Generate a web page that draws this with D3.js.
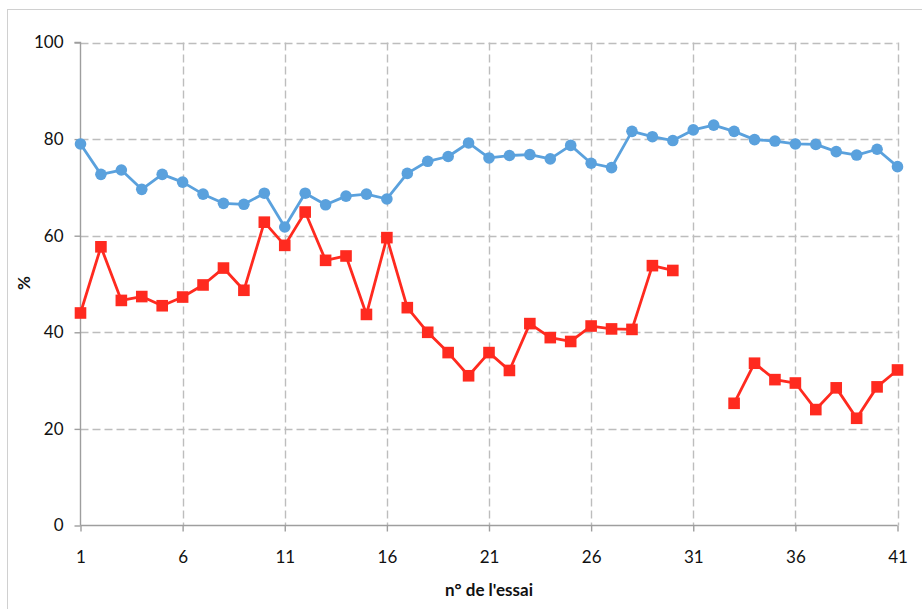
<!DOCTYPE html>
<html>
<head>
<meta charset="utf-8">
<script src="https://cdn.jsdelivr.net/npm/d3@7"></script>
<style>
  html, body { margin: 0; padding: 0; background: #fff; }
  svg { display: block; font-family: Lato, "Open Sans", sans-serif; }
</style>
</head>
<body>
<svg id="chart" width="922" height="609"></svg>
<script>
const trials = d3.range(1, 42);
const blueValues = [79.0, 72.7, 73.6, 69.6, 72.7, 71.1, 68.6, 66.7, 66.5, 68.8,
  61.8, 68.8, 66.4, 68.2, 68.6, 67.6, 72.9, 75.4, 76.4, 79.2,
  76.1, 76.6, 76.8, 75.9, 78.7, 75.0, 74.1, 81.6, 80.5, 79.7,
  81.9, 82.9, 81.6, 79.9, 79.6, 79.0, 78.9, 77.4, 76.7, 77.9, 74.3];
const redValues = [44.0, 57.7, 46.6, 47.4, 45.5, 47.3, 49.8, 53.3, 48.7, 62.8,
  58.0, 64.9, 54.9, 55.8, 43.7, 59.6, 45.1, 40.0, 35.8, 31.0,
  35.8, 32.1, 41.8, 38.9, 38.1, 41.3, 40.7, 40.6, 53.8, 52.8,
  null, null, 25.3, 33.6, 30.2, 29.5, 24.0, 28.5, 22.2, 28.7, 32.2];
const xTicks = [1, 6, 11, 16, 21, 26, 31, 36, 41];
const yTicks = [0, 20, 40, 60, 80, 100];
const xTitle = "n° de l'essai";
const yTitle = "%";

const svg = d3.select("#chart");
const x = d3.scaleLinear().domain([1, 41]).range([80.5, 897.5]);
const y = d3.scaleLinear().domain([0, 100]).range([525.5, 42.5]);

// outer border
svg.append("rect").attr("x", 7.5).attr("y", 9.5).attr("width", 930).attr("height", 620)
  .attr("fill", "none").attr("stroke", "#d0d0d0").attr("stroke-width", 1);

// grid
const grid = svg.append("g");
grid.selectAll("line.h").data(yTicks.filter(d => d > 0)).join("line")
  .attr("x1", x(1)).attr("x2", x(41))
  .attr("y1", d => Math.round(y(d)) + 0.5).attr("y2", d => Math.round(y(d)) + 0.5)
  .attr("stroke", "#bdbdbd").attr("stroke-width", 1.4).attr("stroke-dasharray", "8,4");
grid.selectAll("line.v").data(xTicks.filter(d => d > 1)).join("line")
  .attr("x1", d => Math.round(x(d)) + 0.5).attr("x2", d => Math.round(x(d)) + 0.5)
  .attr("y1", y(100)).attr("y2", y(0))
  .attr("stroke", "#bdbdbd").attr("stroke-width", 1.4).attr("stroke-dasharray", "8,4");

// axes
const xAxis = d3.axisBottom(x).tickValues(xTicks).tickSize(6).tickPadding(19).tickFormat(d3.format("d"));
const yAxis = d3.axisLeft(y).tickValues(yTicks).tickSize(6).tickPadding(11).tickFormat(d3.format("d"));
const gx = svg.append("g").attr("transform", `translate(0,${y(0)})`).call(xAxis);
const gy = svg.append("g").attr("transform", `translate(${x(1)},0)`).call(yAxis);
[gx, gy].forEach(g => {
  g.select(".domain").attr("stroke", "#9e9e9e").attr("stroke-width", 1.4);
  g.selectAll(".tick line").attr("stroke", "#9e9e9e").attr("stroke-width", 1.4);
  g.selectAll(".tick text").attr("fill", "#111").attr("font-size", 17)
    .attr("font-family", "Lato, 'Open Sans', sans-serif");
});
gy.select(".domain").attr("d", `M-6,${y(100)}H0V${y(0)}`);
gx.select(".domain").attr("d", `M${x(1)},0H${x(41)}`);

// axis titles
svg.append("text").attr("x", (x(1) + x(41)) / 2).attr("y", 596).attr("text-anchor", "middle")
  .attr("font-size", 17).attr("font-weight", "bold").attr("fill", "#111").text(xTitle);
svg.append("text").attr("transform", `translate(30,283) rotate(-90)`).attr("text-anchor", "middle")
  .attr("font-size", 17).attr("font-weight", "bold").attr("fill", "#111").text(yTitle);

// series
const blue = "#5aa1dd", red = "#ff2a1f";
const line = d3.line().defined(d => d.v != null).x(d => x(d.t)).y(d => y(d.v));
const blueData = trials.map((t, i) => ({t, v: blueValues[i]}));
const redData = trials.map((t, i) => ({t, v: redValues[i]}));

svg.append("path").datum(blueData).attr("d", line).attr("fill", "none")
  .attr("stroke", blue).attr("stroke-width", 2.8).attr("stroke-linejoin", "round");
svg.append("g").selectAll("circle").data(blueData).join("circle")
  .attr("cx", d => x(d.t)).attr("cy", d => y(d.v)).attr("r", 5.8).attr("fill", blue);

svg.append("path").datum(redData).attr("d", line).attr("fill", "none")
  .attr("stroke", red).attr("stroke-width", 2.8).attr("stroke-linejoin", "round");
svg.append("g").selectAll("rect").data(redData.filter(d => d.v != null)).join("rect")
  .attr("x", d => x(d.t) - 5.8).attr("y", d => y(d.v) - 5.8)
  .attr("width", 11.6).attr("height", 11.6).attr("fill", red);
</script>
</body>
</html>
